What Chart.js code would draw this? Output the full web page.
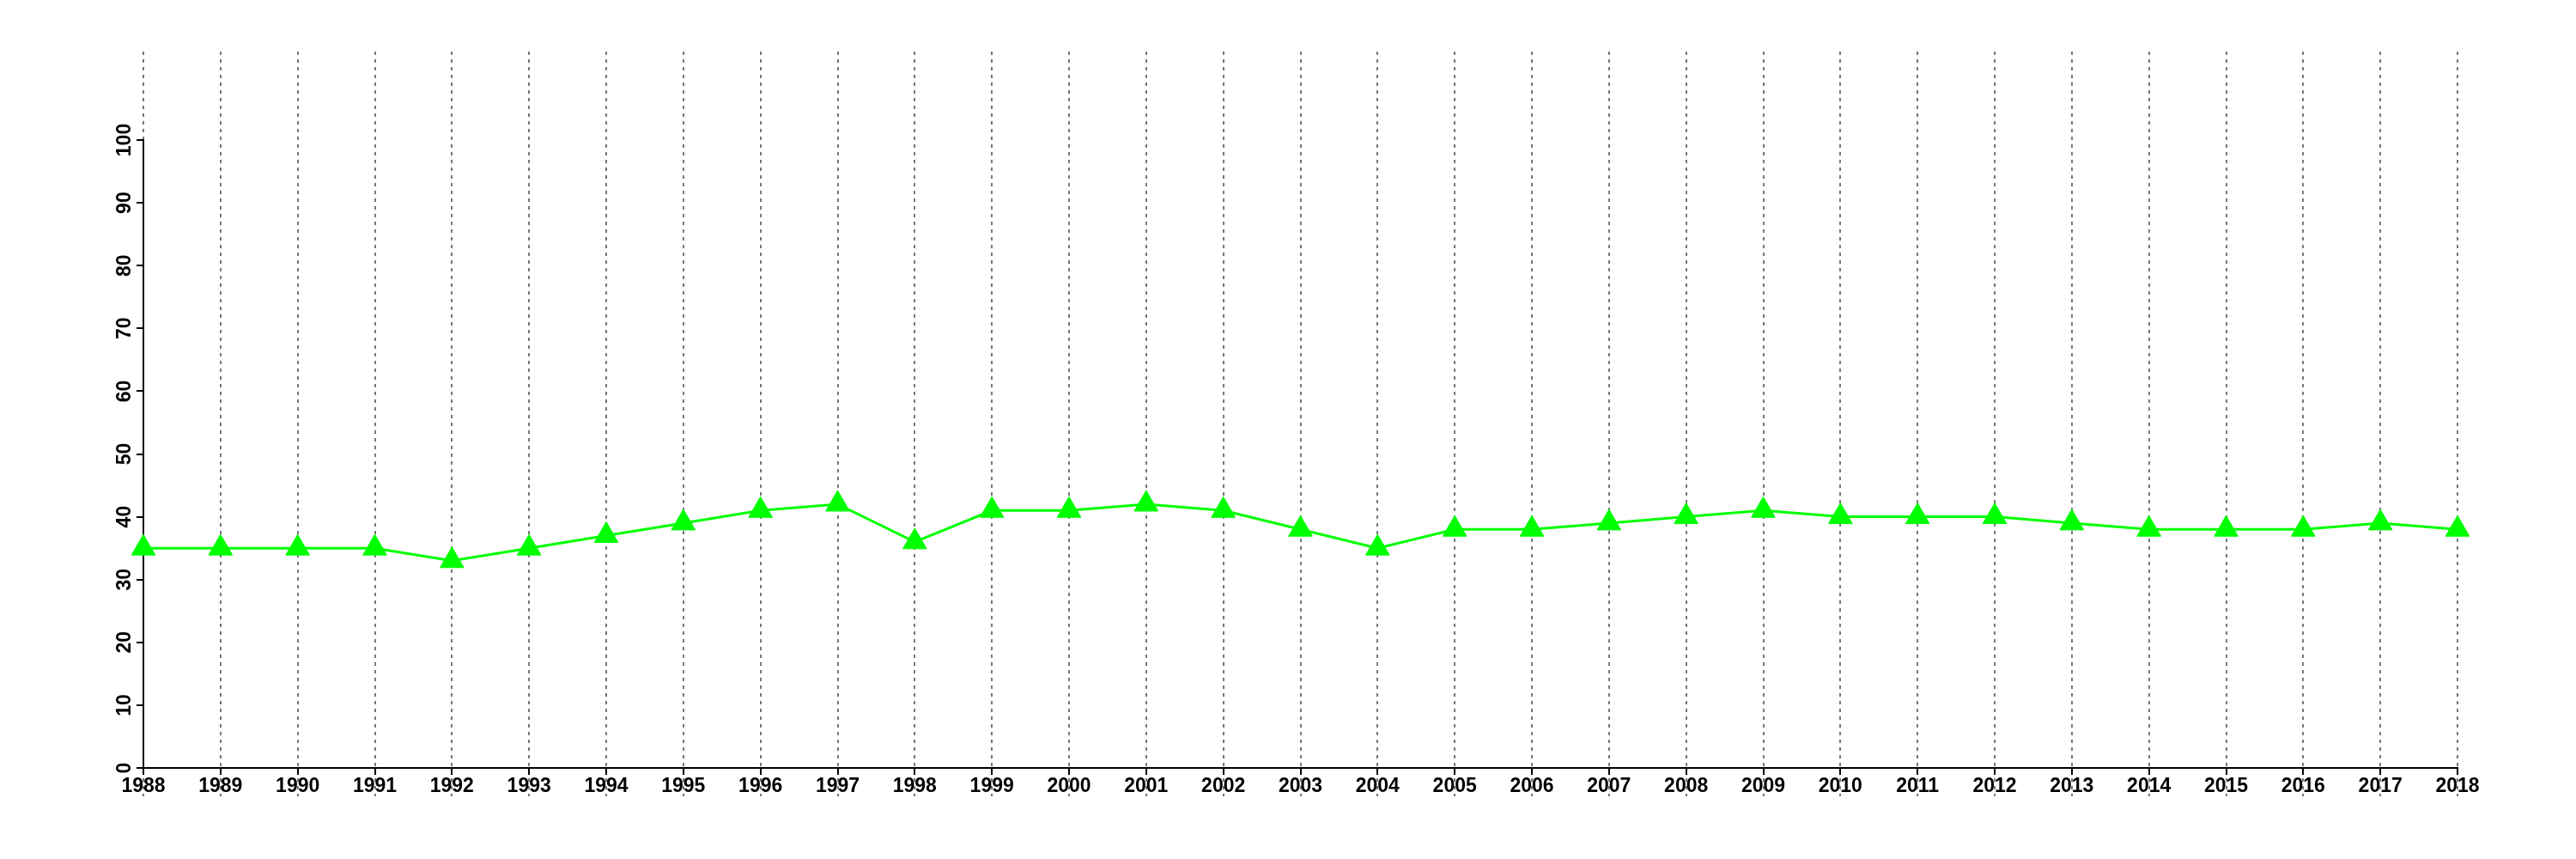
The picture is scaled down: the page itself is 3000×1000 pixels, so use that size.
<!DOCTYPE html>
<html>
<head>
<meta charset="utf-8">
<script src="https://cdn.jsdelivr.net/npm/chart.js@4"></script>
<style>
  html, body { margin: 0; padding: 0; background: #fff; }
  #wrap { width: 3000px; height: 1000px; }
</style>
</head>
<body>
<div id="wrap"><canvas id="chart" width="3000" height="1000"></canvas></div>
<script>
// years on the x axis
const years = ['1988', '1989', '1990', '1991', '1992', '1993', '1994', '1995', '1996', '1997',
    '1998', '1999', '2000', '2001', '2002', '2003', '2004', '2005', '2006', '2007',
    '2008', '2009', '2010', '2011', '2012', '2013', '2014', '2015', '2016', '2017', '2018'];

// series values
const values = [35, 35, 35, 35, 33, 35, 37, 39, 41, 42,
    36, 41, 41, 42, 41, 38, 35, 38, 38, 39,
    40, 41, 40, 40, 40, 39, 38, 38, 38, 39, 38];

// y axis range and tick step
const yMin = 0;
const yMax = 100;
const yStep = 10;

const labelFont = 'bold 23px Helvetica, "Liberation Sans", Arial, sans-serif';

// dotted vertical lines at every year, reaching above and below the plot
// drawn before the axes so the black axis lines sit on top
const dottedGrid = {
    id: 'dottedGrid',
    beforeDraw(chart) {
        const ctx = chart.ctx;
        const x = chart.scales.x;
        const area = chart.chartArea;
        ctx.save();
        ctx.strokeStyle = '#777777';
        ctx.lineWidth = 2;
        ctx.setLineDash([4, 5]);
        x.ticks.forEach((t, i) => {
            const px = Math.round(x.getPixelForTick(i));
            ctx.beginPath();
            ctx.moveTo(px, area.top - 103);
            ctx.lineTo(px, area.bottom + 33);
            ctx.stroke();
        });
        ctx.restore();
    }
};

// rotated y tick labels
const yLabels = {
    id: 'yLabels',
    afterDraw(chart) {
        const ctx = chart.ctx;
        const y = chart.scales.y;
        const area = chart.chartArea;
        ctx.save();
        ctx.font = labelFont;
        ctx.fillStyle = '#000';
        ctx.textAlign = 'center';
        ctx.textBaseline = 'alphabetic';
        y.ticks.forEach(t => {
            const py = y.getPixelForValue(t.value);
            ctx.save();
            ctx.translate(area.left - 15, py);
            ctx.rotate(-Math.PI / 2);
            ctx.fillText(String(t.value), 0, 0);
            ctx.restore();
        });
        ctx.restore();
    }
};

new Chart(document.getElementById('chart').getContext('2d'), {
    type: 'line',
    data: {
        labels: years,
        datasets: [{
            data: values,
            borderColor: '#00ff00',
            backgroundColor: '#00ff00',
            borderWidth: 3,
            pointStyle: 'triangle',
            pointRadius: 16,
            pointBackgroundColor: '#00ff00',
            pointBorderColor: '#00ff00',
            pointBorderWidth: 1,
            tension: 0,
            fill: false
        }]
    },
    options: {
        responsive: false,
        devicePixelRatio: 1,
        animation: false,
        layout: { padding: { left: 107, right: 138, top: 163, bottom: 46 } },
        plugins: {
            legend: { display: false },
            tooltip: { enabled: false }
        },
        scales: {
            x: {
                offset: false,
                grid: { drawOnChartArea: false, drawTicks: true, tickLength: 8, color: '#000', lineWidth: 2 },
                border: { display: true, color: '#000', width: 2 },
                ticks: {
                    font: { family: 'Helvetica, "Liberation Sans", Arial, sans-serif', size: 23, weight: 'bold' },
                    color: '#000',
                    padding: 0,
                    maxRotation: 0,
                    minRotation: 0,
                    autoSkip: false
                },
                afterFit(scale) { scale.height = 60; }
            },
            y: {
                min: yMin,
                max: yMax,
                grid: { drawOnChartArea: false, drawTicks: true, tickLength: 8, color: '#000', lineWidth: 2 },
                border: { display: true, color: '#000', width: 2 },
                ticks: { display: false, stepSize: yStep },
                afterFit(scale) { scale.width = 60; }
            }
        }
    },
    plugins: [dottedGrid, yLabels]
});
</script>
</body>
</html>
